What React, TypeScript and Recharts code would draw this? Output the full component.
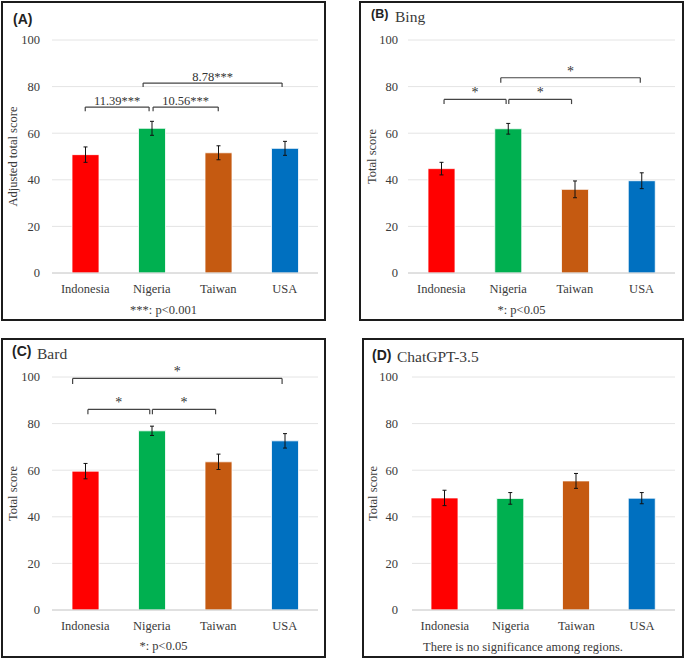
import React from 'react';
import { BarChart, Bar, XAxis, YAxis, CartesianGrid, ErrorBar, Cell, ReferenceLine } from 'recharts';

const regions = ['Indonesia', 'Nigeria', 'Taiwan', 'USA'];
const barColors = ['#FF0000', '#00B050', '#C55A11', '#0070C0'];
const yTicks = [0, 20, 40, 60, 80, 100];

const adjustedScores = [50.8, 62.1, 51.6, 53.5];
const adjustedErr = [3.3, 3.0, 3.0, 3.0];
const bingScores = [44.8, 61.9, 35.9, 39.6];
const bingErr = [2.7, 2.3, 3.6, 3.4];
const bardScores = [59.6, 76.9, 63.6, 72.6];
const bardErr = [3.3, 2.0, 3.3, 3.1];
const gptScores = [48.1, 47.9, 55.4, 48.0];
const gptErr = [3.3, 2.5, 3.2, 2.4];

const bracketsA = [
  { from: 0, to: 0.96, y: 71.2, tip: 69.4, label: '11.39***' },
  { from: 1.02, to: 2.0, y: 71.2, tip: 69.4, label: '10.56***' },
  { from: 0.87, to: 2.96, y: 81.5, tip: 79.8, label: '8.78***' },
];
const bracketsB = [
  { from: 0.04, to: 0.97, y: 74.5, tip: 72.5, label: '*' },
  { from: 1.01, to: 1.95, y: 74.5, tip: 72.5, label: '*' },
  { from: 0.89, to: 2.98, y: 83.8, tip: 81.6, label: '*' },
];
const bracketsC = [
  { from: 0.04, to: 0.97, y: 86.1, tip: 84.0, label: '*' },
  { from: 1.01, to: 1.96, y: 86.1, tip: 84.0, label: '*' },
  { from: -0.19, to: 2.96, y: 99.4, tip: 97.0, label: '*' },
];
const bracketsD: { from: number; to: number; y: number; tip: number; label: string }[] = [];

const SERIF = '"Liberation Serif", "Times New Roman", serif';
const SANS = '"Liberation Sans", Arial, sans-serif';
const TXT = '#3a3a3a';

type Bracket = { from: number; to: number; y: number; tip: number; label: string };

type PanelProps = {
  left: number; top: number; width: number; height: number;
  scores: number[]; errs: number[]; brackets: Bracket[];
  yLabel: string; plotLeft: number; plotRight: number; tickGap: number; yLabelX: number;
  labelSize: number;
};

function Panel(p: PanelProps) {
  const data = regions.map((r, i) => ({ region: r, idx: i, score: p.scores[i], err: p.errs[i] }));
  const bottomAxisH = 30;
  const plotTop = 39;
  const plotBottom = 272;
  return (
    <div style={{ position: 'absolute', left: p.left, top: p.top, width: p.width, height: p.height }}>
      <BarChart
        width={p.width}
        height={p.height}
        data={data}
        margin={{ top: plotTop, right: p.width - p.plotRight, bottom: p.height - plotBottom - bottomAxisH, left: 0 }}
        barSize={27}
      >
        <CartesianGrid vertical={false} stroke="#E4E4E4" strokeWidth={1} />
        <XAxis
          dataKey="region"
          height={bottomAxisH}
          tickLine={false}
          axisLine={{ stroke: '#D0D0D0' }}
          tickSize={6}
          tickMargin={5}
          tick={{ fontSize: 12.5, fill: TXT, fontFamily: SERIF }}
          interval={0}
        />
        <XAxis
          xAxisId="n"
          dataKey="idx"
          type="number"
          domain={[-0.5, 3.5]}
          allowDataOverflow
          padding={{ left: 0, right: 0 }}
          hide
        />
        <YAxis
          width={p.plotLeft}
          domain={[0, 100]}
          ticks={yTicks}
          allowDataOverflow
          axisLine={false}
          tickLine={false}
          tickSize={p.tickGap - 4}
          tickMargin={4}
          tick={{ fontSize: 12.5, fill: TXT, fontFamily: SERIF }}
          label={{
            value: p.yLabel,
            angle: -90,
            position: 'insideLeft',
            offset: p.yLabelX,
            style: { textAnchor: 'middle', fontSize: 12.5, fill: TXT, fontFamily: SERIF },
          }}
        />
        <Bar dataKey="score" isAnimationActive={false} stroke="#ffffff" strokeWidth={0.8}>
          {data.map((d, i) => (
            <Cell key={d.region} fill={barColors[i]} />
          ))}
          <ErrorBar dataKey="err" width={2} stroke="#111" strokeWidth={1} isAnimationActive={false} />
        </Bar>
        {p.brackets.map((b, i) => (
          <ReferenceLine
            key={'h' + i}
            xAxisId="n"
            segment={[{ x: b.from, y: b.y }, { x: b.to, y: b.y }]}
            stroke="#444"
            strokeWidth={1.2}
            ifOverflow="visible"
            label={{
              value: b.label,
              position: 'top',
              offset: 2,
              fill: '#333',
              style: { fontSize: p.labelSize, fill: '#333', fontFamily: SERIF },
            }}
          />
        ))}
        {p.brackets.map((b, i) => (
          <ReferenceLine
            key={'l' + i}
            xAxisId="n"
            segment={[{ x: b.from, y: b.y }, { x: b.from, y: b.tip }]}
            stroke="#444"
            strokeWidth={1.2}
            ifOverflow="visible"
          />
        ))}
        {p.brackets.map((b, i) => (
          <ReferenceLine
            key={'r' + i}
            xAxisId="n"
            segment={[{ x: b.to, y: b.y }, { x: b.to, y: b.tip }]}
            stroke="#444"
            strokeWidth={1.2}
            ifOverflow="visible"
          />
        ))}
      </BarChart>
    </div>
  );
}

const boxStyle = (left: number, top: number, width: number, height: number): React.CSSProperties => ({
  position: 'absolute', left, top, width, height, border: '2px solid #1c1c1c', boxSizing: 'border-box',
});

export default function App() {
  return (
    <div style={{ position: 'absolute', left: 0, top: 0, width: 685, height: 660, background: '#fff', fontFamily: SERIF }}>
      <div style={boxStyle(1, 1, 325, 320)} />
      <div style={boxStyle(359, 1, 325, 320)} />
      <div style={boxStyle(1, 338, 325, 320)} />
      <div style={boxStyle(362, 338, 322, 320)} />

      <Panel left={1} top={1} width={325} height={320} scores={adjustedScores} errs={adjustedErr}
        brackets={bracketsA} yLabel="Adjusted total score" plotLeft={51} plotRight={317} tickGap={12} yLabelX={12} labelSize={12.5} />
      <Panel left={359} top={1} width={325} height={320} scores={bingScores} errs={bingErr}
        brackets={bracketsB} yLabel="Total score" plotLeft={49} plotRight={316} tickGap={10} yLabelX={13} labelSize={14} />
      <Panel left={1} top={338} width={325} height={320} scores={bardScores} errs={bardErr}
        brackets={bracketsC} yLabel="Total score" plotLeft={51} plotRight={317} tickGap={12} yLabelX={12} labelSize={14} />
      <Panel left={362} top={338} width={322} height={320} scores={gptScores} errs={gptErr}
        brackets={bracketsD} yLabel="Total score" plotLeft={50} plotRight={313} tickGap={14} yLabelX={11} labelSize={14} />

      <svg width={685} height={660} style={{ position: 'absolute', left: 0, top: 0, pointerEvents: 'none' }}>
        <text x={13} y={24} fontFamily={SANS} fontWeight="bold" fontSize={14} fill="#222">(A)</text>
        <text x={371} y={18} fontFamily={SANS} fontWeight="bold" fontSize={12.5} fill="#222">(B)</text>
        <text x={395} y={21.5} fontFamily={SERIF} fontSize={15.5} fill={TXT}>Bing</text>
        <text x={12} y={356} fontFamily={SANS} fontWeight="bold" fontSize={14} fill="#222">(C)</text>
        <text x={37} y={359} fontFamily={SERIF} fontSize={15.5} fill={TXT}>Bard</text>
        <text x={372} y={360} fontFamily={SANS} fontWeight="bold" fontSize={14} fill="#222">(D)</text>
        <text x={397} y={362} fontFamily={SERIF} fontSize={15.5} fill={TXT}>ChatGPT-3.5</text>

        <text x={163.5} y={314} textAnchor="middle" fontFamily={SERIF} fontSize={12.5} fill={TXT}>***: p&lt;0.001</text>
        <text x={521.5} y={314} textAnchor="middle" fontFamily={SERIF} fontSize={12.5} fill={TXT}>*: p&lt;0.05</text>
        <text x={163.5} y={650} textAnchor="middle" fontFamily={SERIF} fontSize={12.5} fill={TXT}>*: p&lt;0.05</text>
        <text x={523} y={651} textAnchor="middle" fontFamily={SERIF} fontSize={12.5} fill={TXT}>There is no significance among regions.</text>
      </svg>
    </div>
  );
}
